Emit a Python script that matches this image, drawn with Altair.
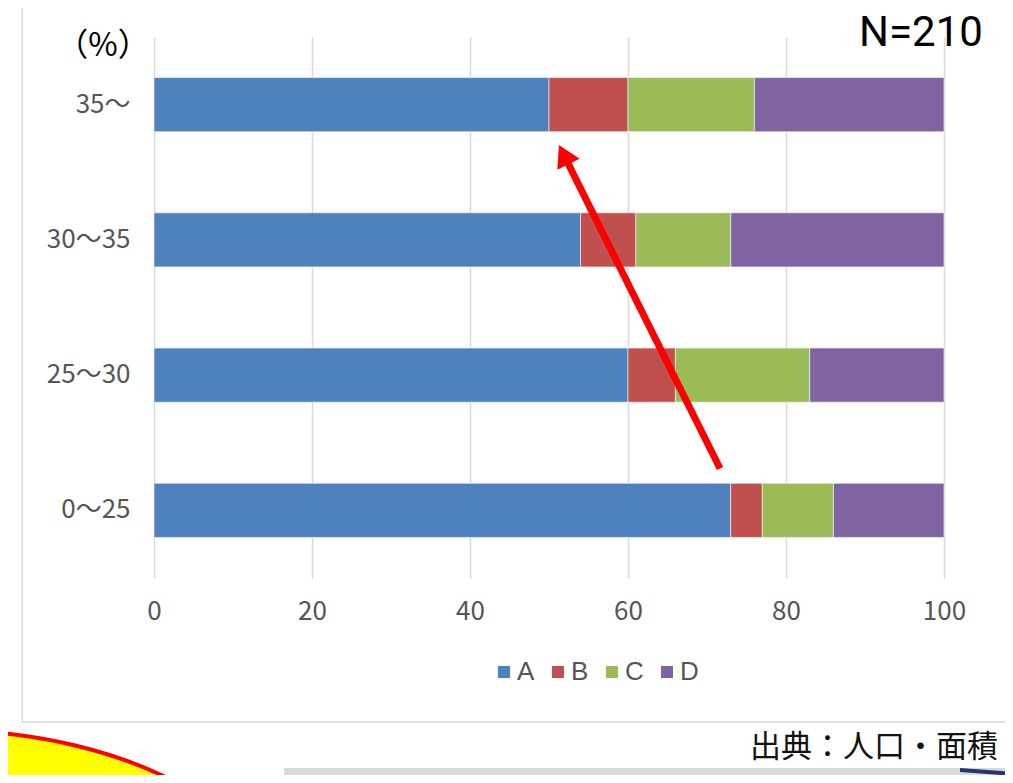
import altair as alt
import pandas as pd

# ---------------- data ----------------
categories = ["35〜", "30〜35", "25〜30", "0〜25"]
series = ["A", "B", "C", "D"]
values_A = [50, 54, 60, 73]
values_B = [10, 7, 6, 4]
values_C = [16, 12, 17, 9]
values_D = [24, 27, 17, 14]
colors = ["#4F81BD", "#C0504D", "#9BBB59", "#8064A2"]
x_ticks = [0, 20, 40, 60, 80, 100]

# arrow annotation in data units (x: percent, y: rows counted from the top)
arrow_x = [71.65, 51.86]
arrow_y = [3.19, 0.87]

n_label = "N=210"
unit_label = "（%）"
source_label = "出典：人口・面積"

rows = []
for s, vals in zip(series, [values_A, values_B, values_C, values_D]):
    for c, v in zip(categories, vals):
        rows.append({"cat": c, "series": s, "value": v, "order": series.index(s)})
df = pd.DataFrame(rows)

W, H = 790, 541
FONT = "Noto Sans CJK JP"
GRAY = "#555555"

x_scale = alt.Scale(domain=[0, 100], nice=False)
x_axis = alt.Axis(title=None, values=x_ticks, domain=False, ticks=False,
                  grid=True, gridColor="#D9D9D9", gridWidth=1.5,
                  labelFontSize=26, labelColor=GRAY, labelPadding=20,
                  labelFlush=False, labelFont=FONT)

bars = alt.Chart(df).mark_bar(stroke="white", strokeWidth=0.8, strokeOpacity=0.7).encode(
    y=alt.Y(
        "cat:N", sort=categories,
        scale=alt.Scale(paddingInner=0.6, paddingOuter=0.3),
        axis=alt.Axis(title=None, domain=False, ticks=False, grid=False,
                      labelFontSize=26, labelColor=GRAY, labelPadding=24,
                      labelFont=FONT),
    ),
    x=alt.X("value:Q", stack="zero", scale=x_scale, axis=x_axis),
    color=alt.Color(
        "series:N",
        scale=alt.Scale(domain=series, range=colors),
        legend=alt.Legend(title=None, orient="none", legendX=337, legendY=622,
                          direction="horizontal", symbolType="square",
                          symbolSize=144, symbolStrokeWidth=0,
                          labelFontSize=26, labelColor=GRAY,
                          labelFont="Liberation Sans",
                          labelOffset=0, columnPadding=10, padding=0),
    ),
    order=alt.Order("order:Q"),
)

arrow_df = pd.DataFrame({"x": arrow_x, "y": arrow_y})
ax = alt.X("x:Q", scale=x_scale, axis=x_axis)
ay = alt.Y("y:Q", scale=alt.Scale(domain=[0, 4], reverse=True, nice=False), axis=None)

arrow_line = alt.Chart(arrow_df).mark_line(
    color="#FF0000", strokeWidth=7, strokeCap="butt"
).encode(x=ax, y=ay)

arrow_head = alt.Chart(arrow_df.iloc[[1]]).mark_point(
    shape="triangle-up", size=620, filled=True, color="#FF0000",
    angle=333.5, opacity=1
).encode(x=ax, y=ay)

one = pd.DataFrame({"t": [""]})

frame = alt.Chart(one).mark_rect(
    fillOpacity=0, stroke="#D9D9D9", strokeWidth=1.5
).encode(x=alt.value(-132), x2=alt.value(900), y=alt.value(-40), y2=alt.value(685))

n_text = alt.Chart(pd.DataFrame({"t": [n_label]})).mark_text(
    font="Roboto", fontSize=42,
    color="#000000", align="center", baseline="alphabetic"
).encode(text="t:N", x=alt.value(767), y=alt.value(9))

unit_text = alt.Chart(pd.DataFrame({"t": [unit_label]})).mark_text(
    font=FONT, fontSize=32, color="#000000", align="center", baseline="middle"
).encode(text="t:N", x=alt.value(-51), y=alt.value(9))

source_text = alt.Chart(pd.DataFrame({"t": [source_label]})).mark_text(
    font=FONT, fontSize=31, color="#111111", align="left", baseline="middle"
).encode(text="t:N", x=alt.value(596), y=alt.value(711))

k, r = 0.5523, 0.5714
kr = k * r
ellipse_path = (
    f"M -1 0 C -1 {-kr} {-k} {-r} 0 {-r} C {k} {-r} 1 {-kr} 1 0 "
    f"C 1 {kr} {k} {r} 0 {r} C {-k} {r} -1 {kr} -1 0 Z"
)
ellipse = alt.Chart(one).mark_point(
    shape=ellipse_path, size=490000, filled=True, fill="#FFFF00",
    stroke="#FF0000", strokeWidth=4, opacity=1
).encode(x=alt.value(-214), y=alt.value(893))

gray_bar = alt.Chart(one).mark_rect(color="#D9D9D9").encode(
    x=alt.value(130), x2=alt.value(900), y=alt.value(731), y2=alt.value(760)
)

blue_curve = alt.Chart(one).mark_rule(color="#1F3A73", strokeWidth=4).encode(
    x=alt.value(806), x2=alt.value(860), y=alt.value(733), y2=alt.value(737)
)

chart = alt.layer(
    frame, bars, arrow_line, arrow_head, n_text, unit_text, source_text,
    ellipse, gray_bar, blue_curve
).resolve_scale(y="independent").properties(
    width=W, height=H,
    autosize=alt.AutoSizeParams(type="none"),
    padding={"left": 146, "top": 29, "right": 61, "bottom": 197},
    background="white",
).configure_view(stroke="transparent")

chart.save("out.html", embed_options={"renderer": "svg", "actions": False})
